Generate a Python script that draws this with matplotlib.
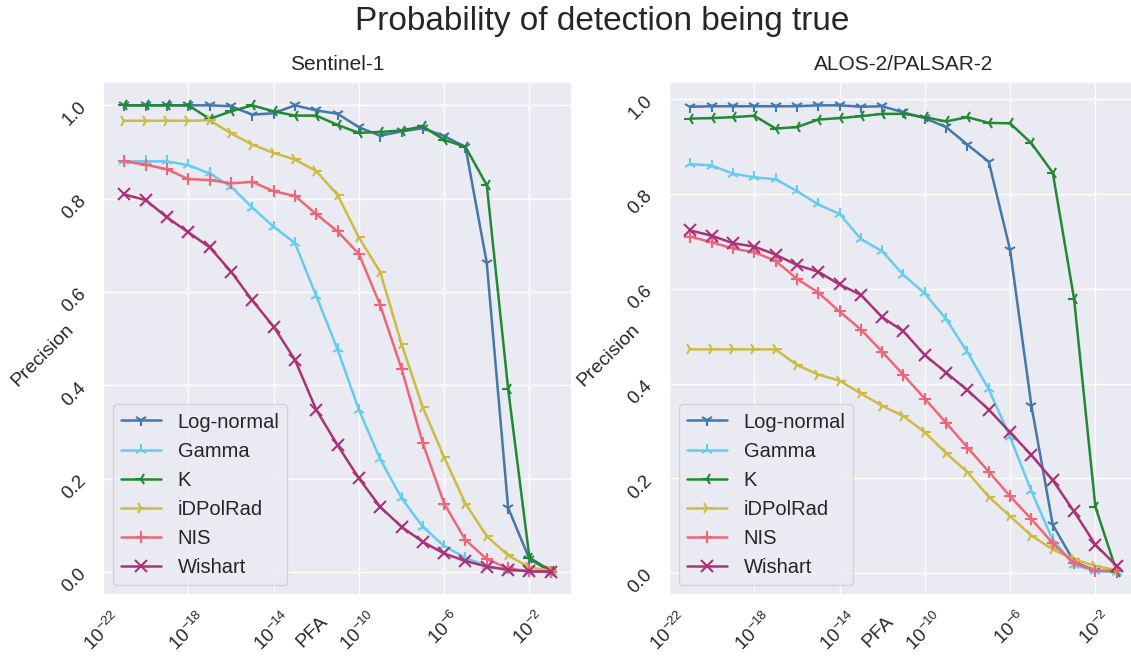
import matplotlib
matplotlib.use("Agg")
import matplotlib.pyplot as plt
import seaborn as sns

sns.set_theme(style="darkgrid")
plt.rcParams['font.family'] = ['Liberation Sans', 'DejaVu Sans']

pfa = [1e-21, 1e-20, 1e-19, 1e-18, 1e-17, 1e-16, 1e-15, 1e-14, 1e-13, 1e-12, 1e-11,
       1e-10, 1e-9, 1e-8, 1e-7, 1e-6, 1e-5, 1e-4, 1e-3, 1e-2, 1e-1]

methods = ['Log-normal', 'Gamma', 'K', 'iDPolRad', 'NIS', 'Wishart']
colors = ['#4477AA', '#66CCEE', '#228833', '#CCBB44', '#EE6677', '#AA3377']
markers = ['1', '2', '3', '4', '+', 'x']

# Sentinel-1
s1_lognormal = [1.0, 1.0, 1.0, 1.0, 1.0, 0.998, 0.980, 0.983, 1.0, 0.989, 0.982,
                0.953, 0.935, 0.944, 0.951, 0.934, 0.911, 0.662, 0.138, 0.028, 0.001]
s1_gamma = [0.880, 0.880, 0.880, 0.872, 0.854, 0.826, 0.781, 0.740, 0.705, 0.592, 0.477,
            0.348, 0.242, 0.159, 0.097, 0.056, 0.031, 0.013, 0.005, 0.002, 0.001]
s1_k = [1.0, 1.0, 1.0, 1.0, 0.971, 0.987, 1.0, 0.987, 0.978, 0.978, 0.958,
        0.941, 0.943, 0.946, 0.955, 0.926, 0.911, 0.829, 0.393, 0.031, 0.003]
s1_idpolrad = [0.967, 0.967, 0.967, 0.967, 0.968, 0.940, 0.916, 0.898, 0.884, 0.859, 0.808,
               0.717, 0.643, 0.489, 0.353, 0.246, 0.147, 0.077, 0.036, 0.010, 0.003]
s1_nis = [0.880, 0.873, 0.863, 0.842, 0.840, 0.833, 0.836, 0.816, 0.806, 0.767, 0.730,
          0.682, 0.572, 0.436, 0.276, 0.147, 0.069, 0.028, 0.008, 0.002, 0.001]
s1_wishart = [0.809, 0.797, 0.760, 0.728, 0.696, 0.644, 0.582, 0.526, 0.455, 0.348, 0.272,
              0.201, 0.140, 0.097, 0.065, 0.040, 0.024, 0.012, 0.005, 0.002, 0.001]

# ALOS-2/PALSAR-2
al_lognormal = [0.984, 0.985, 0.985, 0.985, 0.985, 0.985, 0.987, 0.987, 0.984, 0.985, 0.972,
                0.960, 0.941, 0.904, 0.868, 0.682, 0.353, 0.102, 0.024, 0.005, 0.003]
al_gamma = [0.863, 0.860, 0.843, 0.835, 0.831, 0.806, 0.778, 0.758, 0.705, 0.679, 0.629,
            0.590, 0.536, 0.466, 0.388, 0.287, 0.173, 0.070, 0.017, 0.005, 0.003]
al_k = [0.959, 0.960, 0.962, 0.965, 0.938, 0.941, 0.957, 0.960, 0.964, 0.969, 0.969,
        0.962, 0.953, 0.962, 0.950, 0.949, 0.907, 0.845, 0.579, 0.140, 0.003]
al_idpolrad = [0.472, 0.472, 0.472, 0.472, 0.472, 0.439, 0.419, 0.406, 0.379, 0.353, 0.331,
               0.297, 0.253, 0.213, 0.161, 0.120, 0.079, 0.050, 0.029, 0.015, 0.006]
al_nis = [0.710, 0.698, 0.685, 0.677, 0.659, 0.621, 0.592, 0.552, 0.514, 0.467, 0.418,
          0.368, 0.317, 0.265, 0.214, 0.162, 0.114, 0.063, 0.021, 0.005, 0.005]
al_wishart = [0.723, 0.712, 0.696, 0.689, 0.672, 0.650, 0.636, 0.609, 0.587, 0.540, 0.510,
              0.460, 0.423, 0.386, 0.345, 0.297, 0.249, 0.196, 0.130, 0.060, 0.015]

sentinel = [s1_lognormal, s1_gamma, s1_k, s1_idpolrad, s1_nis, s1_wishart]
alos = [al_lognormal, al_gamma, al_k, al_idpolrad, al_nis, al_wishart]

xticks = [1e-22, 1e-18, 1e-14, 1e-10, 1e-6, 1e-2]

fig = plt.figure(figsize=(11.31, 6.64), dpi=100)
ax1 = fig.add_axes([0.0911, 0.1039, 0.4147, 0.7726])
ax2 = fig.add_axes([0.5915, 0.1039, 0.4147, 0.7726])

for ax, data, name in [(ax1, sentinel, 'Sentinel-1'), (ax2, alos, 'ALOS-2/PALSAR-2')]:
    for vals, lab, c, m in zip(data, methods, colors, markers):
        ax.plot(pfa, vals, color=c, marker=m, label=lab, lw=1.8, ms=9, mew=1.5)
    ax.set_xscale('log')
    ax.set_xticks(xticks)
    ax.xaxis.set_minor_locator(matplotlib.ticker.NullLocator())
    ax.set_yticks([0.0, 0.2, 0.4, 0.6, 0.8, 1.0])
    ax.tick_params(axis='both', labelsize=13.5, labelrotation=45)
    ax.set_title(name, fontsize=15, pad=9)
    ax.set_xlabel('PFA', fontsize=14, rotation=45, va='center', ha='center')
    ax.xaxis.set_label_coords(0.446, -0.072)
    ax.set_ylabel('Precision', fontsize=14, rotation=45, va='center', ha='center')
    ax.yaxis.set_label_coords(-0.128, 0.468)
    ax.legend(loc='lower left', fontsize=14.5)

fig.suptitle('Probability of detection being true', fontsize=24, x=0.532, y=0.967, va='center')
fig.savefig('out.png', dpi=100)
